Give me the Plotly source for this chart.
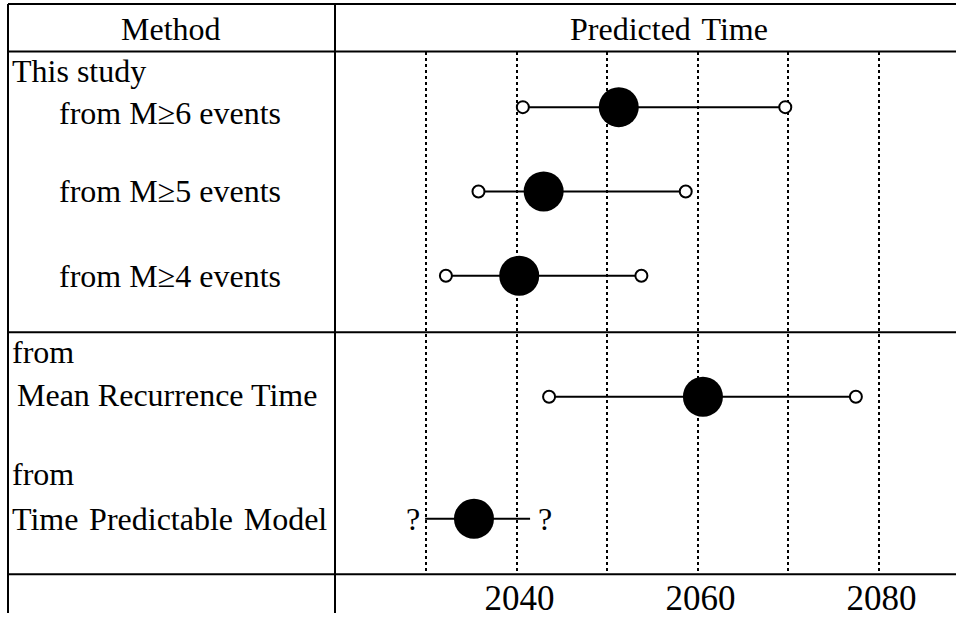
import plotly.graph_objects as go

# ---- data -------------------------------------------------------------
methods = ["from M≥6 events", "from M≥5 events", "from M≥4 events",
           "Mean Recurrence Time", "Time Predictable Model"]
predicted = [2051.3, 2043.0, 2040.3, 2060.6, 2035.3]
lower = [2040.7, 2035.8, 2032.2, 2043.6, 2029.9]
upper = [2069.7, 2058.7, 2053.8, 2077.5, 2041.5]
bound_known = [True, True, True, True, False]
grid_years = [2030, 2040, 2050, 2060, 2070, 2080]
tick_years = [2040, 2060, 2080]
group_titles = ["This study", "from", "from"]
header_titles = ["Method", "Predicted Time"]

# ---- layout geometry (pixels) -----------------------------------------
W, H = 956, 618
LEFT_EDGE, DIVIDER = 8, 335
TOP_LINE, HEADER_LINE, GROUP_LINE, AXIS_LINE = 4, 52, 335, 579
ROW_Y = [108, 193, 278, 400, 523]
X2040, PX_PER_YEAR = 516.5, 9.05

FONT = "Liberation Serif, Times New Roman, serif"
TXT = 32
WIDE = "\u2004"  # slightly wider word gap used in a few labels


def px_x(p):
    return p / W


def px_y(p):
    return 1 - p / H


def year_at(p):
    return 2040 + (p - X2040) / PX_PER_YEAR


fig = go.Figure()

# error ranges
lx, ly = [], []
for lo, hi, y in zip(lower, upper, ROW_Y):
    lx += [lo, hi, None]
    ly += [y, y, None]
fig.add_trace(go.Scatter(x=lx, y=ly, mode="lines",
                         line=dict(color="black", width=2),
                         hoverinfo="skip", showlegend=False))

# open end markers where the bound is known
ex, ey = [], []
for lo, hi, y, known in zip(lower, upper, ROW_Y, bound_known):
    if known:
        ex += [lo, hi]
        ey += [y, y]
fig.add_trace(go.Scatter(x=ex, y=ey, mode="markers",
                         marker=dict(size=12, color="white",
                                     line=dict(color="black", width=2)),
                         hoverinfo="skip", showlegend=False))

# predicted times
fig.add_trace(go.Scatter(x=predicted, y=ROW_Y, mode="markers",
                         marker=dict(size=40, color="black"),
                         text=methods, hovertemplate="%{text}: %{x}<extra></extra>",
                         showlegend=False))

annotations = []
# question marks for unknown bounds
for lo, hi, y, known in zip(lower, upper, ROW_Y, bound_known):
    if not known:
        annotations.append(dict(x=lo, y=y, xref="x", yref="y", text="?",
                                xanchor="right", yanchor="middle", xshift=-3,
                                showarrow=False, font=dict(family=FONT, size=TXT)))
        annotations.append(dict(x=hi, y=y, xref="x", yref="y", text="?",
                                xanchor="left", yanchor="middle", xshift=6,
                                showarrow=False, font=dict(family=FONT, size=TXT)))

# header
for txt, xp in zip(header_titles, (171, 669)):
    annotations.append(dict(x=px_x(xp), y=px_y(29), xref="paper", yref="paper",
                            text=txt.replace(" ", WIDE), showarrow=False,
                            xanchor="center", yanchor="middle",
                            font=dict(family=FONT, size=TXT)))

# method column
label_pos = [(57, ROW_Y[0] + 6), (57, ROW_Y[1]), (57, ROW_Y[2]),
             (15, ROW_Y[3] - 2), (10, ROW_Y[4])]
for i, (txt, (xp, yp)) in enumerate(zip(methods, label_pos)):
    if i == 4:
        txt = txt.replace(" ", WIDE)
    annotations.append(dict(x=px_x(xp), y=yp, xref="paper", yref="y",
                            text=txt, xanchor="left", showarrow=False,
                            font=dict(family=FONT, size=TXT)))
title_pos = [(10, 72), (10, 355), (10, 478)]
for txt, (xp, yp) in zip(group_titles, title_pos):
    annotations.append(dict(x=px_x(xp), y=yp, xref="paper", yref="y",
                            text=txt, xanchor="left", showarrow=False,
                            font=dict(family=FONT, size=TXT)))

# table rules
line = dict(color="black", width=2)
shapes = [
    dict(type="line", xref="paper", yref="paper", x0=px_x(LEFT_EDGE), x1=1,
         y0=px_y(TOP_LINE), y1=px_y(TOP_LINE), line=line),
    dict(type="line", xref="paper", yref="paper", x0=px_x(LEFT_EDGE), x1=1,
         y0=px_y(HEADER_LINE), y1=px_y(HEADER_LINE), line=line),
    dict(type="line", xref="paper", yref="paper", x0=px_x(LEFT_EDGE), x1=1,
         y0=px_y(GROUP_LINE), y1=px_y(GROUP_LINE), line=line),
    dict(type="line", xref="paper", yref="paper", x0=px_x(LEFT_EDGE), x1=1,
         y0=px_y(AXIS_LINE), y1=px_y(AXIS_LINE), line=line),
    dict(type="line", xref="paper", yref="paper", x0=px_x(LEFT_EDGE), x1=px_x(LEFT_EDGE),
         y0=0, y1=px_y(TOP_LINE), line=line),
    dict(type="line", xref="paper", yref="paper", x0=px_x(DIVIDER), x1=px_x(DIVIDER),
         y0=0, y1=px_y(TOP_LINE), line=line),
]

fig.update_layout(
    width=W, height=H,
    margin=dict(l=0, r=0, t=0, b=0),
    paper_bgcolor="white", plot_bgcolor="white",
    font=dict(family=FONT, size=TXT, color="black"),
    annotations=annotations, shapes=shapes,
    xaxis=dict(domain=[px_x(DIVIDER), 1],
               range=[year_at(DIVIDER), year_at(W)],
               tickvals=tick_years, ticks="", showline=False, zeroline=False,
               showgrid=False, tickfont=dict(family=FONT, size=35),
               ticklabelstandoff=0, ticklabelshift=3,
               minor=dict(tickvals=grid_years, showgrid=True, griddash="dot",
                          gridcolor="black", gridwidth=1.5)),
    yaxis=dict(domain=[px_y(AXIS_LINE), px_y(HEADER_LINE)],
               range=[AXIS_LINE, HEADER_LINE], visible=False),
)

fig.write_html("out.html")
